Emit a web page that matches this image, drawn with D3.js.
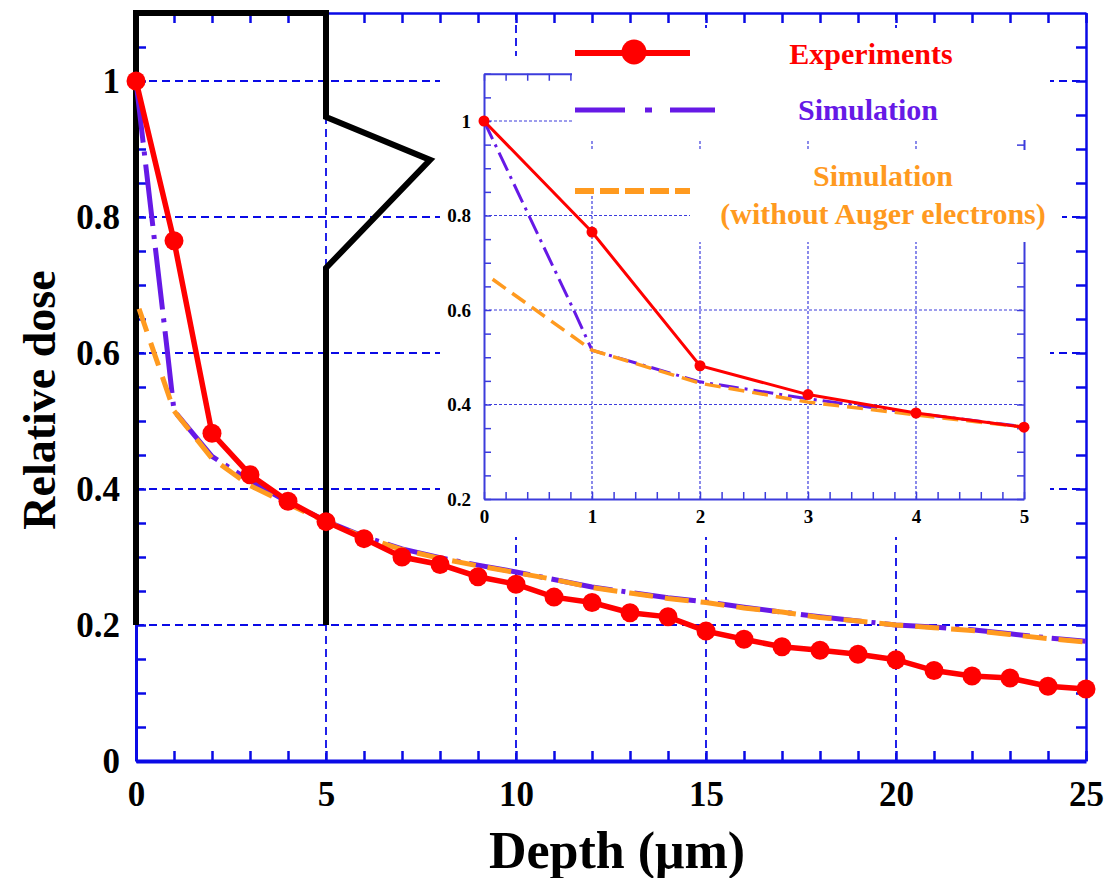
<!DOCTYPE html>
<html><head><meta charset="utf-8">
<script src="https://cdn.jsdelivr.net/npm/d3@7"></script>
<style>
html,body{margin:0;padding:0;background:#fff;}
svg{display:block;}
</style></head><body>
<svg id="c" width="1111" height="878"></svg>
<script>
// ---------- data ----------
const depth = d3.range(0, 26);
const experiments = [1.0, 0.765, 0.482, 0.421, 0.382, 0.352, 0.327, 0.300, 0.289, 0.271, 0.260, 0.241, 0.233, 0.218, 0.212, 0.191, 0.179, 0.168, 0.163, 0.157, 0.149, 0.133, 0.125, 0.122, 0.110, 0.106];
const simDepth = [0, 0.82, 1, 2, 3, 4, 5, 6, 7, 8, 9, 10, 11, 12, 13, 14, 15, 16, 17, 18, 19, 20, 21, 22, 23, 24, 25];
const simulation = [1.0, 0.605, 0.515, 0.448, 0.412, 0.381, 0.353, 0.330, 0.312, 0.299, 0.288, 0.278, 0.267, 0.256, 0.248, 0.240, 0.234, 0.226, 0.219, 0.212, 0.206, 0.200, 0.197, 0.193, 0.187, 0.181, 0.176];
const noAugerDepth = [0.08, 1, 2, 3, 4, 5, 6, 7, 8, 9, 10, 11, 12, 13, 14, 15, 16, 17, 18, 19, 20, 21, 22, 23, 24, 25];
const noAuger = [0.665, 0.515, 0.445, 0.405, 0.378, 0.352, 0.329, 0.311, 0.298, 0.287, 0.277, 0.267, 0.255, 0.247, 0.239, 0.233, 0.225, 0.219, 0.211, 0.206, 0.200, 0.196, 0.192, 0.186, 0.180, 0.175];
const xTickLabels = [0, 5, 10, 15, 20, 25];
const yTickLabels = [0, 0.2, 0.4, 0.6, 0.8, 1];
const insetXTicks = [0, 1, 2, 3, 4, 5];
const insetYTicks = [0.2, 0.4, 0.6, 0.8, 1];
const legendLabels = ["Experiments", "Simulation", "Simulation", "(without Auger electrons)"];
const xTitle = "Depth (μm)";
const yTitle = "Relative dose";
// zoom call-out outline (data units of main chart)
const zoomOutline = [[0,0.2],[0,1.1],[5,1.1],[5,0.947],[7.74,0.884],[5,0.725],[5,0.2]];

// ---------- style ----------
const RED = "#ff0000", PURPLE = "#6619e6", ORANGE = "#ff9a1f", BLUE = "#0a0ae6", IBLUE = "#3c3cdc";
const FONT = "'Liberation Serif', 'Times New Roman', serif";
const svg = d3.select("#c");
const serif = (s, size, color) => s.style("font-family", FONT).style("font-weight", "bold")
  .style("font-size", size + "px").attr("fill", color || "#000");

// ---------- main scales ----------
const x = d3.scaleLinear().domain([0, 25]).range([136, 1086]);
const y = d3.scaleLinear().domain([0, 1.1]).range([761, 13]);

// grid
const g = svg.append("g");
g.selectAll(".gx").data([5, 10, 15, 20]).join("line")
  .attr("x1", d => x(d)).attr("x2", d => x(d)).attr("y1", y(0)).attr("y2", y(1.1))
  .attr("stroke", BLUE).attr("stroke-width", 1.8).attr("stroke-dasharray", "8,5");
g.selectAll(".gy").data([0.2, 0.4, 0.6, 0.8, 1]).join("line")
  .attr("x1", x(0)).attr("x2", x(25)).attr("y1", d => y(d)).attr("y2", d => y(d))
  .attr("stroke", BLUE).attr("stroke-width", 1.8).attr("stroke-dasharray", "8,5");

function styleAxis(sel, color, domW, tickW) {
  sel.select(".domain").attr("stroke", color).attr("stroke-width", domW);
  sel.selectAll(".tick line").attr("stroke", color).attr("stroke-width", tickW);
}
// main axes ticks
const ax = svg.append("g");
ax.append("g").attr("transform", `translate(0,${y(0)})`)
  .call(d3.axisBottom(x).tickValues(d3.range(0, 26)).tickSize(-10).tickSizeOuter(0).tickFormat(""))
  .call(s => styleAxis(s, BLUE, 4, 2.5));
ax.append("g").attr("transform", `translate(0,${y(1.1)})`)
  .call(d3.axisTop(x).tickValues(d3.range(0, 26)).tickSize(-10).tickSizeOuter(0).tickFormat(""))
  .call(s => styleAxis(s, BLUE, 2.5, 2.5));
ax.append("g").attr("transform", `translate(${x(0)},0)`)
  .call(d3.axisLeft(y).tickValues(d3.range(0, 22).map(i => i * 0.05)).tickSize(-10).tickSizeOuter(0).tickFormat(""))
  .call(s => styleAxis(s, BLUE, 3, 2.5));
ax.append("g").attr("transform", `translate(${x(25)},0)`)
  .call(d3.axisRight(y).tickValues(d3.range(0, 22).map(i => i * 0.05)).tickSize(-10).tickSizeOuter(0).tickFormat(""))
  .call(s => styleAxis(s, BLUE, 2.5, 2.5));
// main tick labels
ax.append("g").attr("transform", `translate(0,${y(0)})`)
  .call(d3.axisBottom(x).tickValues(xTickLabels).tickSize(0).tickPadding(20).tickFormat(d => String(d)))
  .call(s => { s.select(".domain").remove(); serif(s.selectAll("text"), 35); });
ax.append("g").attr("transform", `translate(${x(0)},0)`)
  .call(d3.axisLeft(y).tickValues(yTickLabels).tickSize(0).tickPadding(16).tickFormat(d => String(d)))
  .call(s => { s.select(".domain").remove(); serif(s.selectAll("text"), 35); });

// titles
serif(svg.append("text").attr("x", 617).attr("y", 868).attr("text-anchor", "middle"), 52).text(xTitle);
serif(svg.append("text").attr("transform", "translate(55,400) rotate(-90)").attr("text-anchor", "middle"), 46).text(yTitle);

// zoom outline
svg.append("path").datum(zoomOutline)
  .attr("d", d3.line().x(d => x(d[0])).y(d => y(d[1])))
  .attr("fill", "none").attr("stroke", "#000").attr("stroke-width", 6).attr("stroke-linejoin", "miter");

// main series
const lineMain = d3.line().x(d => x(d[0])).y(d => y(d[1]));
svg.append("path").datum(d3.zip(simDepth, simulation)).attr("d", lineMain)
  .attr("fill", "none").attr("stroke", PURPLE).attr("stroke-width", 5).attr("stroke-dasharray", "62,9,4,9");
svg.append("path").datum(d3.zip(noAugerDepth, noAuger)).attr("d", lineMain)
  .attr("fill", "none").attr("stroke", ORANGE).attr("stroke-width", 5).attr("stroke-dasharray", "24,12");
svg.append("path").datum(d3.zip(depth, experiments)).attr("d", lineMain)
  .attr("fill", "none").attr("stroke", RED).attr("stroke-width", 5.5);
svg.append("g").selectAll("circle").data(d3.zip(depth, experiments)).join("circle")
  .attr("cx", d => x(d[0])).attr("cy", d => y(d[1])).attr("r", 9.5).attr("fill", RED);

// ---------- inset ----------
const xi = d3.scaleLinear().domain([0, 5]).range([484, 1024]);
const yi = d3.scaleLinear().domain([0.2, 1.1]).range([499, 73.75]);
svg.append("rect").attr("x", 440).attr("y", 56).attr("width", 610).attr("height", 481).attr("fill", "#fff");
const ig = svg.append("g");
ig.selectAll(".igx").data([1, 2, 3, 4]).join("line")
  .attr("x1", d => xi(d)).attr("x2", d => xi(d)).attr("y1", yi(0.2)).attr("y2", yi(1.1))
  .attr("stroke", IBLUE).attr("stroke-width", 1.2).attr("stroke-dasharray", "3,2");
ig.selectAll(".igy").data([0.4, 0.6, 0.8, 1]).join("line")
  .attr("x1", xi(0)).attr("x2", xi(5)).attr("y1", d => yi(d)).attr("y2", d => yi(d))
  .attr("stroke", IBLUE).attr("stroke-width", 1.2).attr("stroke-dasharray", "3,2");
const ixMinor = d3.range(0, 26).map(i => i * 0.2);
const iyMinor = d3.range(0, 19).map(i => 0.2 + i * 0.05);
ig.append("g").attr("transform", `translate(0,${yi(0.2)})`)
  .call(d3.axisBottom(xi).tickValues(ixMinor).tickSize(-7).tickSizeOuter(0).tickFormat(""))
  .call(s => styleAxis(s, IBLUE, 2, 1.5));
ig.append("g").attr("transform", `translate(0,${yi(1.1)})`)
  .call(d3.axisTop(xi).tickValues(ixMinor).tickSize(-7).tickSizeOuter(0).tickFormat(""))
  .call(s => styleAxis(s, IBLUE, 2, 1.5));
ig.append("g").attr("transform", `translate(${xi(0)},0)`)
  .call(d3.axisLeft(yi).tickValues(iyMinor).tickSize(-7).tickSizeOuter(0).tickFormat(""))
  .call(s => styleAxis(s, IBLUE, 2, 1.5));
ig.append("g").attr("transform", `translate(${xi(5)},0)`)
  .call(d3.axisRight(yi).tickValues(iyMinor).tickSize(-7).tickSizeOuter(0).tickFormat(""))
  .call(s => styleAxis(s, IBLUE, 2, 1.5));
ig.append("g").attr("transform", `translate(0,${yi(0.2)})`)
  .call(d3.axisBottom(xi).tickValues(insetXTicks).tickSize(0).tickPadding(11).tickFormat(d => String(d)))
  .call(s => { s.select(".domain").remove(); serif(s.selectAll("text"), 19); });
ig.append("g").attr("transform", `translate(${xi(0)},0)`)
  .call(d3.axisLeft(yi).tickValues(insetYTicks).tickSize(0).tickPadding(13).tickFormat(d => String(d)))
  .call(s => { s.select(".domain").remove(); serif(s.selectAll("text"), 19); });

const inRange = d => d[0] <= 5;
const lineIn = d3.line().x(d => xi(d[0])).y(d => yi(d[1]));
ig.append("path").datum(d3.zip(simDepth, simulation).filter(inRange)).attr("d", lineIn)
  .attr("fill", "none").attr("stroke", PURPLE).attr("stroke-width", 3).attr("stroke-dasharray", "20,6,3,6");
ig.append("path").datum(d3.zip(noAugerDepth, noAuger).filter(inRange)).attr("d", lineIn)
  .attr("fill", "none").attr("stroke", ORANGE).attr("stroke-width", 3.5).attr("stroke-dasharray", "16,8");
ig.append("path").datum(d3.zip(depth, experiments).filter(inRange)).attr("d", lineIn)
  .attr("fill", "none").attr("stroke", RED).attr("stroke-width", 3);
ig.append("g").selectAll("circle").data(d3.zip(depth, experiments).filter(inRange)).join("circle")
  .attr("cx", d => xi(d[0])).attr("cy", d => yi(d[1])).attr("r", 5.5).attr("fill", RED);

// ---------- legend ----------
const lg = svg.append("g");
lg.append("rect").attr("x", 572).attr("y", 28).attr("width", 478).attr("height", 112).attr("fill", "#fff");
lg.append("rect").attr("x", 572).attr("y", 150).attr("width", 118).attr("height", 45).attr("fill", "#fff");
lg.append("rect").attr("x", 690).attr("y", 150).attr("width", 372).attr("height", 92).attr("fill", "#fff");
lg.append("line").attr("x1", 575).attr("x2", 690).attr("y1", 53).attr("y2", 53).attr("stroke", RED).attr("stroke-width", 6);
lg.append("circle").attr("cx", 634).attr("cy", 52).attr("r", 12.5).attr("fill", RED);
lg.append("line").attr("x1", 575).attr("x2", 715).attr("y1", 110).attr("y2", 110).attr("stroke", PURPLE).attr("stroke-width", 5).attr("stroke-dasharray", "50,20,7,18");
lg.append("line").attr("x1", 575).attr("x2", 690).attr("y1", 191).attr("y2", 191).attr("stroke", ORANGE).attr("stroke-width", 6).attr("stroke-dasharray", "19,6");
const legendPos = [[871, 64, RED], [868, 120, PURPLE], [883, 186, ORANGE], [883, 224, ORANGE]];
serif(lg.selectAll("text").data(legendLabels).join("text")
  .attr("x", (d, i) => legendPos[i][0]).attr("y", (d, i) => legendPos[i][1])
  .attr("text-anchor", "middle"), 30)
  .attr("fill", (d, i) => legendPos[i][2])
  .text(d => d);
</script>
</body></html>
